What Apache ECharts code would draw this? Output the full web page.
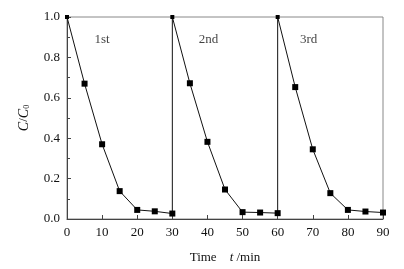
<!DOCTYPE html>
<html>
<head>
<meta charset="utf-8">
<script src="https://cdn.jsdelivr.net/npm/echarts@6/dist/echarts.min.js"></script>
<style>html,body{margin:0;padding:0;background:#fff}#chart{width:404px;height:269px}</style>
</head>
<body>
<div id="chart"></div>
<script>
// time (min) and C/C0, three cycles joined into one trace
var timeVals = [0, 5, 10, 15, 20, 25, 30, 30, 35, 40, 45, 50, 55, 60, 60, 65, 70, 75, 80, 85, 90];
var ratioVals = [1.0, 0.67, 0.37, 0.138, 0.045, 0.038, 0.027, 1.0, 0.672, 0.382, 0.146, 0.034, 0.032, 0.029, 1.0, 0.653, 0.345, 0.128, 0.045, 0.037, 0.032];
var cycleNames = ['1st', '2nd', '3rd'];
var cycleX = [10, 40.3, 68.8];
var cycleY = [0.888, 0.888, 0.888];
var xTicks = [0, 10, 20, 30, 40, 50, 60, 70, 80, 90];

var font = '"Liberation Serif", "Times New Roman", serif';
var chart = echarts.init(document.getElementById('chart'));

var lineData = timeVals.map(function (t, i) { return [t, ratioVals[i]]; });
var labelData = cycleNames.map(function (n, i) { return { name: n, value: [cycleX[i], cycleY[i]] }; });

chart.setOption({
    animation: false,
    grid: {
        left: 67, right: 21, top: 17, bottom: 45,
        show: true, borderColor: '#888', borderWidth: 1
    },
    xAxis: {
        type: 'value', min: 0, max: 90, interval: 10,
        name: 'Time    {i|t} /min',
        nameLocation: 'middle', nameGap: 32,
        nameTextStyle: {
            fontFamily: font, fontSize: 13, color: '#111',
            rich: { i: { fontFamily: font, fontStyle: 'italic', fontSize: 13, color: '#111' } }
        },
        axisLine: { lineStyle: { color: '#444', width: 1 } },
        axisTick: { inside: true, length: 4, lineStyle: { color: '#444' } },
        axisLabel: { fontFamily: font, fontSize: 13, color: '#111', margin: 7,
            formatter: function (v) { return xTicks.indexOf(v) >= 0 ? String(v) : ''; } },
        splitLine: { show: false }
    },
    yAxis: {
        type: 'value', min: 0, max: 1, interval: 0.2,
        name: '{i|C}/{i|C}{s|0}',
        nameLocation: 'middle', nameGap: 36, nameRotate: 90,
        nameTextStyle: {
            fontFamily: font, fontSize: 13, color: '#111',
            rich: {
                i: { fontFamily: font, fontStyle: 'italic', fontSize: 14, color: '#111' },
                s: { fontFamily: font, fontSize: 8, color: '#111', verticalAlign: 'bottom', padding: [6, 0, 0, 0] }
            }
        },
        axisLine: { show: true, lineStyle: { color: '#444', width: 1 } },
        axisTick: { inside: true, length: 4, lineStyle: { color: '#444' } },
        minorTick: { show: true, splitNumber: 2, length: 3, lineStyle: { color: '#444' } },
        axisLabel: { fontFamily: font, fontSize: 13, color: '#111', margin: 7,
            formatter: function (v) { return v.toFixed(1); } },
        splitLine: { show: false }
    },
    series: [
        {
            type: 'line',
            data: lineData,
            symbol: 'rect',
            symbolSize: function (v) { return v[1] >= 1 ? 4 : 6; },
            lineStyle: { color: '#111', width: 1 },
            itemStyle: { color: '#000' },
            clip: false
        },
        {
            type: 'scatter',
            data: labelData,
            symbolSize: 0,
            label: {
                show: true, position: 'inside',
                formatter: '{b}',
                fontFamily: font, fontSize: 13, color: '#111'
            }
        }
    ]
});
</script>
</body>
</html>
